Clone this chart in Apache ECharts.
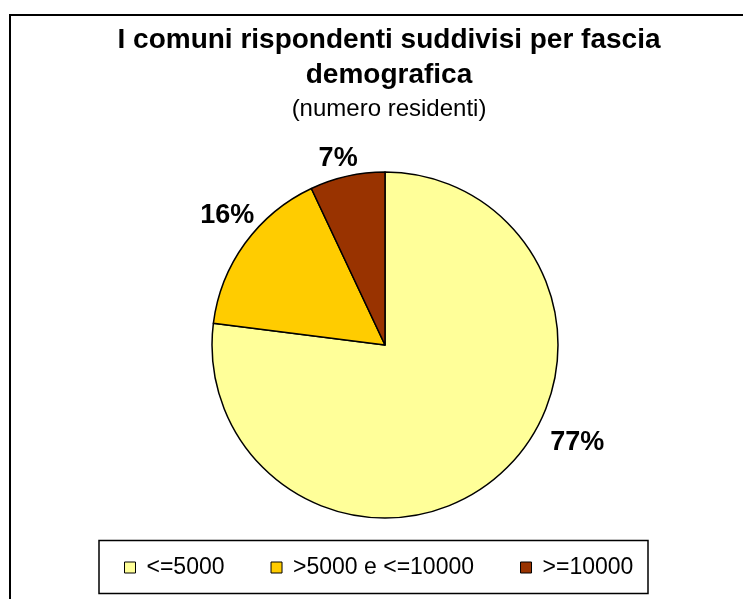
<!DOCTYPE html>
<html>
<head>
    <meta charset="utf-8" />
    <script type="text/javascript" src="https://cdn.jsdelivr.net/npm/echarts@6/dist/echarts.min.js"></script>
    <title></title>
    <style>
        html, body { margin: 0; padding: 0; background: #fff; }
    </style>
</head>
<body>
    <div id="main" style="width: 743px;height:599px;"></div>
    <script type="text/javascript">
    var titleText = 'I comuni rispondenti suddivisi per fascia\ndemografica';
    var subText = '(numero residenti)';
    var categories = ['<=5000', '>5000 e <=10000', '>=10000']; // fasce
    var shares = [77, 16, 7]; // percentuali
    var colors = ['#FFFF99', '#FFCC00', '#993300'];
    // spostamento delle etichette rispetto alla posizione standard
    var labelShift = [[38, -41], [24, -21], [18, -6]];

    var myChart = echarts.init(document.getElementById('main'));
    var font = 'Liberation Sans, Arial, sans-serif';

    var pieData = [];
    for (var i = 0; i < categories.length; i++) {
        pieData.push({ name: categories[i], value: shares[i] });
    }

    var option = {
        animation: false,
        color: colors,
        title: {
            text: titleText,
            subtext: subText,
            left: 389, // centro del riquadro del grafico
            textAlign: 'center',
            top: 23,
            padding: 0,
            itemGap: 2,
            textStyle: { fontFamily: font, fontSize: 28, fontWeight: 'bold', color: '#000', lineHeight: 35 },
            subtextStyle: { fontFamily: font, fontSize: 24, color: '#000', lineHeight: 28 }
        },
        legend: {
            left: 124,
            top: 556,
            padding: 0,
            itemWidth: 11,
            itemHeight: 11,
            itemGap: 46,
            icon: 'rect',
            itemStyle: { borderColor: '#000', borderWidth: 1 },
            textStyle: { fontFamily: font, fontSize: 23, color: '#000', padding: [0, 0, 0, 6] },
            data: categories
        },
        graphic: [{
            type: 'rect',
            shape: { x: 10, y: 15, width: 760, height: 620 },
            style: { fill: 'none', stroke: '#000', lineWidth: 2 },
            silent: true
        }, {
            type: 'rect',
            shape: { x: 99, y: 540.5, width: 549, height: 53 },
            style: { fill: 'none', stroke: '#000', lineWidth: 1.5 },
            silent: true
        }],
        series: [{
            type: 'pie',
            center: [385, 345],
            radius: 173,
            startAngle: 90,
            clockwise: true,
            data: pieData,
            itemStyle: { borderColor: '#000', borderWidth: 1.5 },
            label: {
                show: true,
                position: 'outside',
                formatter: '{c}%',
                fontFamily: font,
                fontSize: 27,
                fontWeight: 'bold',
                color: '#000'
            },
            labelLine: { show: false, length: 12, length2: 0 },
            labelLayout: function (params) {
                var s = labelShift[params.dataIndex];
                return { dx: s[0], dy: s[1] };
            },
            emphasis: { disabled: true }
        }]
    };
    myChart.setOption(option);
    </script>
</body>
</html>
